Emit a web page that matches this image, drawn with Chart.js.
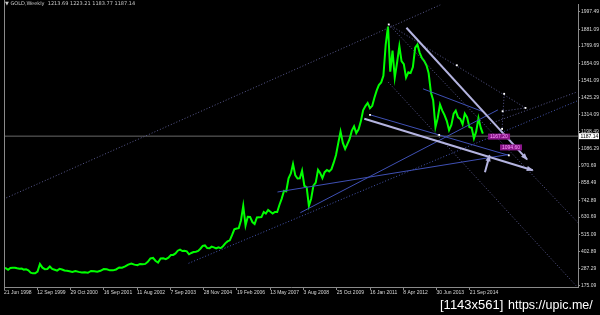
<!DOCTYPE html>
<html>
<head>
<meta charset="utf-8">
<script src="https://cdn.jsdelivr.net/npm/chart.js@4.4.1/dist/chart.umd.min.js"></script>
<style>
  html, body { margin: 0; padding: 0; background: #000; }
</style>
</head>
<body>
<canvas id="goldChart" width="600" height="315"></canvas>
<script>
// Etiquetas del eje de tiempo (una cada 64 barras semanales)
var dateLabels = ['21 Jun 1998', '12 Sep 1999', '29 Oct 2000', '16 Sep 2001', '11 Aug 2002',
    '7 Sep 2003', '28 Nov 2004', '19 Feb 2006', '13 May 2007', '3 Aug 2008',
    '25 Oct 2009', '16 Jan 2011', '8 Apr 2012', '30 Jun 2013', '21 Sep 2014'];

// Niveles de precio del eje derecho
var priceTicks = [175.09, 287.29, 402.89, 515.09, 630.69, 742.89, 858.49, 970.69, 1086.29,
    1198.49, 1314.09, 1425.29, 1541.09, 1654.09, 1769.69, 1881.09, 1997.49];

// Precio del oro, un valor por mes desde junio 1998
var firstYear = 1998, firstMonth = 6;
var goldMonthly = [
    292, 290, 280, 292, 294, 294, 290,                                  // 1998
    287, 288, 281, 283, 276, 261, 256, 256, 268, 318, 294, 284,         // 1999
    285, 302, 286, 280, 274, 286, 282, 275, 273, 270, 266, 272,         // 2000
    266, 262, 264, 260, 272, 270, 267, 273, 285, 283, 276, 276,         // 2001
    282, 295, 294, 302, 314, 322, 314, 310, 319, 317, 319, 333,         // 2002
    356, 359, 340, 328, 355, 356, 351, 360, 379, 379, 389, 407,         // 2003
    414, 405, 406, 403, 383, 392, 398, 400, 405, 420, 439, 442,         // 2004
    424, 423, 434, 429, 422, 430, 424, 437, 456, 469, 476, 510,         // 2005
    549, 555, 557, 610, 705, 575, 633, 632, 598, 585, 628, 629,         // 2006
    631, 665, 655, 679, 667, 655, 665, 665, 713, 754, 806, 803,         // 2007
    889, 922, 985, 909, 888, 889, 940, 839, 829, 705, 755, 840,         // 2008
    860, 945, 925, 890, 930, 945, 935, 950, 995, 1045, 1125, 1200,      // 2009
    1125, 1085, 1115, 1150, 1205, 1235, 1190, 1215, 1270, 1342, 1370, 1391, // 2010
    1356, 1372, 1424, 1473, 1510, 1528, 1572, 1780, 1900, 1600, 1740, 1560, // 2011
    1660, 1770, 1670, 1650, 1560, 1595, 1590, 1630, 1760, 1780, 1725, 1690, // 2012
    1670, 1640, 1590, 1460, 1410, 1230, 1290, 1380, 1340, 1310, 1270, 1210, // 2013
    1245, 1320, 1340, 1295, 1285, 1250, 1320, 1295, 1230, 1225, 1155, 1200, // 2014
    1290, 1225, 1187                                                     // 2015
];

var lastPrice = '1187.14';
var priceLine = 1170;
var headerText = '\u25BC GOLD,Weekly  1213.69 1223.21 1183.77 1187.14';

// Objetos dibujados sobre el grafico: extremos [barra, precio]
var dottedLines = [
    [[-6, 743], [839, 2044]],
    [[740, 1914], [1003, 1358]],
    [[739, 1530], [1108, 145]],
    [[740, 1914], [1104, 594]],
    [[935, 1253], [1102, 1464]],
    [[962, 1452], [958, 1218]],
    [[959, 1336], [1003, 1358]]
];
var blueDotted = [
    [[355, 323], [1102, 1404]]
];
var blueLines = [
    [[704, 1312], [971, 1042]],
    [[570, 660], [950, 1345]],
    [[526, 798], [971, 1048]],
    [[806, 1485], [922, 1332]]
];
var arrowLines = [
    [[774, 1892], [1006, 1015]],
    [[693, 1286], [1017, 943]],
    [[925, 930], [934, 1042]]
];
var anchorPoints = [[740, 1914], [871, 1642], [962, 1452], [959, 1336], [1003, 1358],
    [958, 1218], [704, 1312], [837, 1178], [971, 1042]];
var priceTags = [[931, 1167, '1167.20'], [954, 1095, '1094.60']];

// Conversion fecha -> indice de barra, usando las fechas de las etiquetas
var monthIdx = {Jan: 0, Feb: 1, Mar: 2, Apr: 3, May: 4, Jun: 5, Jul: 6, Aug: 7, Sep: 8, Oct: 9, Nov: 10, Dec: 11};
var WEEK = 7 * 864e5;
var labelTimes = dateLabels.map(function (s) {
    var p = s.split(' ');
    return Date.UTC(+p[2], monthIdx[p[1]], +p[0]);
});
function dateToBar(t) {
    var n = labelTimes.length;
    if (t < labelTimes[0]) return (t - labelTimes[0]) / WEEK;
    if (t >= labelTimes[n - 1]) return (n - 1) * 64 + (t - labelTimes[n - 1]) / WEEK;
    for (var i = 0; i < n - 1; i++) {
        if (t < labelTimes[i + 1]) {
            return i * 64 + 64 * (t - labelTimes[i]) / (labelTimes[i + 1] - labelTimes[i]);
        }
    }
}

var goldPoints = goldMonthly.map(function (v, i) {
    return {x: dateToBar(Date.UTC(firstYear, firstMonth - 1 + i, 15)), y: v};
});

function toPoints(seg) {
    return seg.map(function (p) { return {x: p[0], y: p[1]}; });
}

var datasets = [];
function addLines(list, color, width, dash, arrow) {
    list.forEach(function (seg) {
        datasets.push({
            data: toPoints(seg),
            borderColor: color,
            backgroundColor: color,
            borderWidth: width,
            borderDash: dash,
            pointRadius: 0,
            arrow: arrow,
            order: 1
        });
    });
}

datasets.push({
    data: anchorPoints.map(function (p) { return {x: p[0], y: p[1]}; }),
    showLine: false,
    pointStyle: 'rect',
    pointRadius: 1.3,
    pointBackgroundColor: '#ffffff',
    pointBorderWidth: 0,
    order: 0
});
addLines(arrowLines, '#b4b4e0', 2, [], true);
addLines(blueLines, '#3f50b4', 1, [], false);
addLines(blueDotted, '#4656b0', 1, [1, 2], false);
addLines(dottedLines, '#5a5a90', 1, [1, 2], false);
datasets.push({
    data: [{x: -10, y: priceLine}, {x: 1110, y: priceLine}],
    borderColor: '#6a6a6a',
    borderWidth: 1,
    pointRadius: 0,
    order: 20
});
datasets.push({
    data: goldPoints,
    borderColor: '#00ff00',
    borderWidth: 2,
    pointRadius: 0,
    tension: 0,
    order: 10
});

var blackBackground = {
    id: 'blackBackground',
    beforeDraw: function (chart) {
        var c = chart.ctx;
        c.save();
        c.fillStyle = '#000';
        c.fillRect(0, 0, chart.width, chart.height);
        c.restore();
    }
};

var chartDecor = {
    id: 'chartDecor',
    afterDatasetsDraw: function (chart) {
        var c = chart.ctx, x = chart.scales.x, y = chart.scales.y;
        // puntas de flecha
        chart.data.datasets.forEach(function (ds, i) {
            if (!ds.arrow) return;
            var pts = chart.getDatasetMeta(i).data;
            var a = pts[0], b = pts[pts.length - 1];
            var ang = Math.atan2(b.y - a.y, b.x - a.x);
            c.save();
            c.fillStyle = ds.borderColor;
            c.translate(b.x, b.y);
            c.rotate(ang);
            c.beginPath();
            c.moveTo(1, 0);
            c.lineTo(-6, -2.6);
            c.lineTo(-6, 2.6);
            c.closePath();
            c.fill();
            c.restore();
        });
        // etiquetas de precio moradas
        c.save();
        c.font = '5px "Liberation Sans"';
        c.textBaseline = 'middle';
        priceTags.forEach(function (t) {
            var px = x.getPixelForValue(t[0]), py = y.getPixelForValue(t[1]);
            c.fillStyle = '#8a168a';
            c.fillRect(px, py - 3, 22, 6);
            c.fillStyle = '#ff9cff';
            c.fillText(t[2], px + 2, py + 0.5);
        });
        c.restore();
    },
    afterDraw: function (chart) {
        var c = chart.ctx, area = chart.chartArea, y = chart.scales.y;
        c.save();
        // borde izquierdo
        c.strokeStyle = '#8a8a8a';
        c.lineWidth = 1;
        c.beginPath();
        c.moveTo(area.left + 0.5, 0);
        c.lineTo(area.left + 0.5, area.bottom);
        c.stroke();
        // caja del ultimo precio
        var py = y.getPixelForValue(priceLine);
        c.fillStyle = '#ffffff';
        c.fillRect(area.right + 1, py - 3, 20, 6);
        c.fillStyle = '#000';
        c.font = '5px "Liberation Sans"';
        c.textBaseline = 'middle';
        c.fillText(lastPrice, area.right + 2.5, py + 0.5);
        // encabezado
        c.fillStyle = '#c8c8c8';
        c.font = '5px "DejaVu Sans"';
        c.textBaseline = 'middle';
        c.fillText(headerText, 5, 4);
        // marca de agua
        c.fillStyle = '#ffffff';
        c.textBaseline = 'alphabetic';
        c.font = '13px "Liberation Sans"';
        c.fillText('[1143x561]', 440, 309);
        c.font = '12.5px "Liberation Sans"';
        c.fillText('https://upic.me/', 508, 309);
        c.restore();
    }
};

var chart = new Chart(document.getElementById('goldChart').getContext('2d'), {
    type: 'line',
    data: {datasets: datasets},
    options: {
        responsive: false,
        animation: false,
        events: [],
        layout: {padding: {left: 3, top: 1, right: 0, bottom: 0}},
        plugins: {legend: {display: false}, tooltip: {enabled: false}},
        scales: {
            x: {
                type: 'linear',
                min: 0,
                max: 1104,
                afterBuildTicks: function (scale) {
                    scale.ticks = dateLabels.map(function (l, i) { return {value: i * 64}; });
                },
                afterFit: function (scale) { scale.height = 28; },
                grid: {drawOnChartArea: false, color: '#8a8a8a', tickLength: 3},
                border: {color: '#8a8a8a'},
                ticks: {
                    autoSkip: false,
                    maxRotation: 0,
                    align: 'start',
                    padding: 0,
                    color: '#d8d8d8',
                    font: {family: 'Liberation Sans', size: 5},
                    callback: function (v) { return dateLabels[Math.round(v / 64)]; }
                }
            },
            y: {
                type: 'linear',
                position: 'right',
                min: 165.2,
                max: 2050.2,
                afterBuildTicks: function (scale) {
                    scale.ticks = priceTicks.map(function (v) { return {value: v}; });
                },
                afterFit: function (scale) { scale.width = 22; },
                grid: {drawOnChartArea: false, color: '#8a8a8a', tickLength: 2},
                border: {color: '#8a8a8a'},
                ticks: {
                    padding: 1,
                    color: '#d8d8d8',
                    font: {family: 'Liberation Sans', size: 5},
                    callback: function (v) { return v.toFixed(2); }
                }
            }
        }
    },
    plugins: [blackBackground, chartDecor]
});
</script>
</body>
</html>
